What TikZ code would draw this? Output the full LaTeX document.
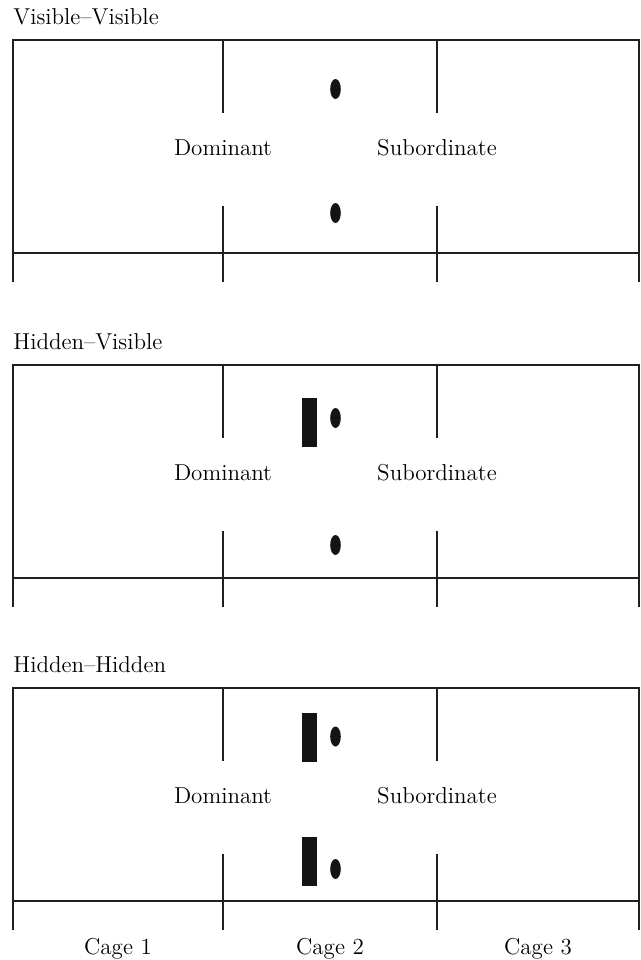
\documentclass[tikz,border=0pt]{standalone}
\usepackage{fontspec}
\setmainfont{Latin Modern Roman}

% One cage-row frame: outer box, floor line and the two partial dividers.
% #1 = vertical offset of the top edge, #2 = node-name prefix, #3 = title
\newcommand\cageframe[3]{%
  \begin{scope}[shift={(0,#1)}]
    \draw[frame] (13,242) -- (13,0) -- (639,0) -- (639,242);
    \draw[frame] (13,213) -- (639,213);
    \foreach \xd in {223,437} {
      \draw[frame] (\xd,0) -- (\xd,73);
      \draw[frame] (\xd,165.5) -- (\xd,242);
    }
    \node[title] (#2title) at (13,-15.5) {#3};
    \node[lbl] (#2dom) at (223,115.5) {Dominant};
    \node[lbl] (#2sub) at (437,115.5) {Subordinate};
  \end{scope}}

\begin{document}
\begin{tikzpicture}[x=0.5pt,y=-0.5pt,
  frame/.style={line width=0.55pt, draw=black!88},
  lbl/.style={font=\fontsize{11.5}{14}\selectfont, inner sep=0pt, anchor=base},
  title/.style={lbl, anchor=base west},
  marker/.style={fill=black!92}]
\useasboundingbox (0,0) rectangle (641,960);

% Visible-Visible
\cageframe{40}{a}{Visible–Visible}
\fill[marker] (335.5,89) ellipse [x radius=5.3, y radius=10];
\fill[marker] (335.5,213) ellipse [x radius=5.3, y radius=10];

% Hidden-Visible
\cageframe{365}{b}{Hidden–Visible}
\fill[marker] (302,398) rectangle (317,447);
\fill[marker] (335.5,418) ellipse [x radius=5.3, y radius=10];
\fill[marker] (335.5,545) ellipse [x radius=5.3, y radius=10];

% Hidden-Hidden
\cageframe{688}{c}{Hidden–Hidden}
\fill[marker] (302,713) rectangle (317,762);
\fill[marker] (335.5,736.5) ellipse [x radius=5.3, y radius=10];
\fill[marker] (302,837) rectangle (317,886);
\fill[marker] (335.5,869) ellipse [x radius=5.3, y radius=10];

% Cage captions
\node[lbl] (cage1) at (118,954) {Cage 1};
\node[lbl] (cage2) at (330,954) {Cage 2};
\node[lbl] (cage3) at (538,954) {Cage 3};
\end{tikzpicture}
\end{document}
